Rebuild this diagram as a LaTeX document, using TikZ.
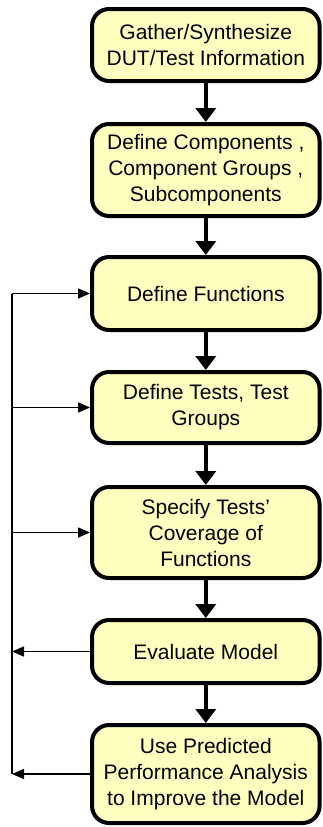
\documentclass[tikz,border=0pt]{standalone}
\usepackage{fontspec}
\setmainfont{Liberation Sans}
\usetikzlibrary{arrows.meta}
\definecolor{boxfill}{RGB}{255,255,192}
\tikzset{
  stepbox/.style={draw=black, fill=boxfill, line width=4pt, rounded corners=17pt,
    minimum width=227.5pt, align=center, inner sep=0pt,
    font=\fontsize{21}{26}\selectfont},
  flow/.style={line width=4pt, -{Triangle[length=14pt,width=20pt]}},
  loopline/.style={line width=1.3pt},
  loop/.style={loopline, -{Triangle[length=12pt,width=10pt]}}
}
\begin{document}
\begin{tikzpicture}[x=1pt,y=-1pt]
\useasboundingbox (0,0) rectangle (322,827);

\node[stepbox, minimum height=72pt]  (b1) at (205.8,45)    {Gather/Synthesize\\DUT/Test Information};
\node[stepbox, minimum height=92pt]  (b2) at (205.8,170)   {Define Components ,\\Component Groups ,\\Subcomponents};
\node[stepbox, minimum height=73pt]  (b3) at (205.8,293.5) {Define Functions};
\node[stepbox, minimum height=71pt]  (b4) at (205.8,407.5) {Define Tests, Test\\Groups};
\node[stepbox, minimum height=91pt]  (b5) at (205.8,532.5) {Specify Tests’\\Coverage of\\Functions};
\node[stepbox, minimum height=63pt]  (b6) at (205.8,651.5) {Evaluate Model};
\node[stepbox, minimum height=98pt]  (b7) at (205.8,774)   {Use Predicted\\Performance Analysis\\to Improve the Model};

% main sequence
\draw[flow] (b1.south) -- (b2.north);
\draw[flow] (b2.south) -- (b3.north);
\draw[flow] (b3.south) -- (b4.north);
\draw[flow] (b4.south) -- (b5.north);
\draw[flow] (b5.south) -- (b6.north);
\draw[flow] (b6.south) -- (b7.north);

% feedback rail on the left
\coordinate (rtop) at (12,293.5);
\coordinate (rbot) at (12,774);
\draw[loopline] (rtop) -- (rbot);
\draw[loop] (rtop) -- (b3.west);
\draw[loop] (b4.west -| rtop) -- (b4.west);
\draw[loop] (b5.west -| rtop) -- (b5.west);
\draw[loop] (b6.west) -- (b6.west -| rtop);
\draw[loop] (b7.west) -- (rbot);
\end{tikzpicture}
\end{document}
